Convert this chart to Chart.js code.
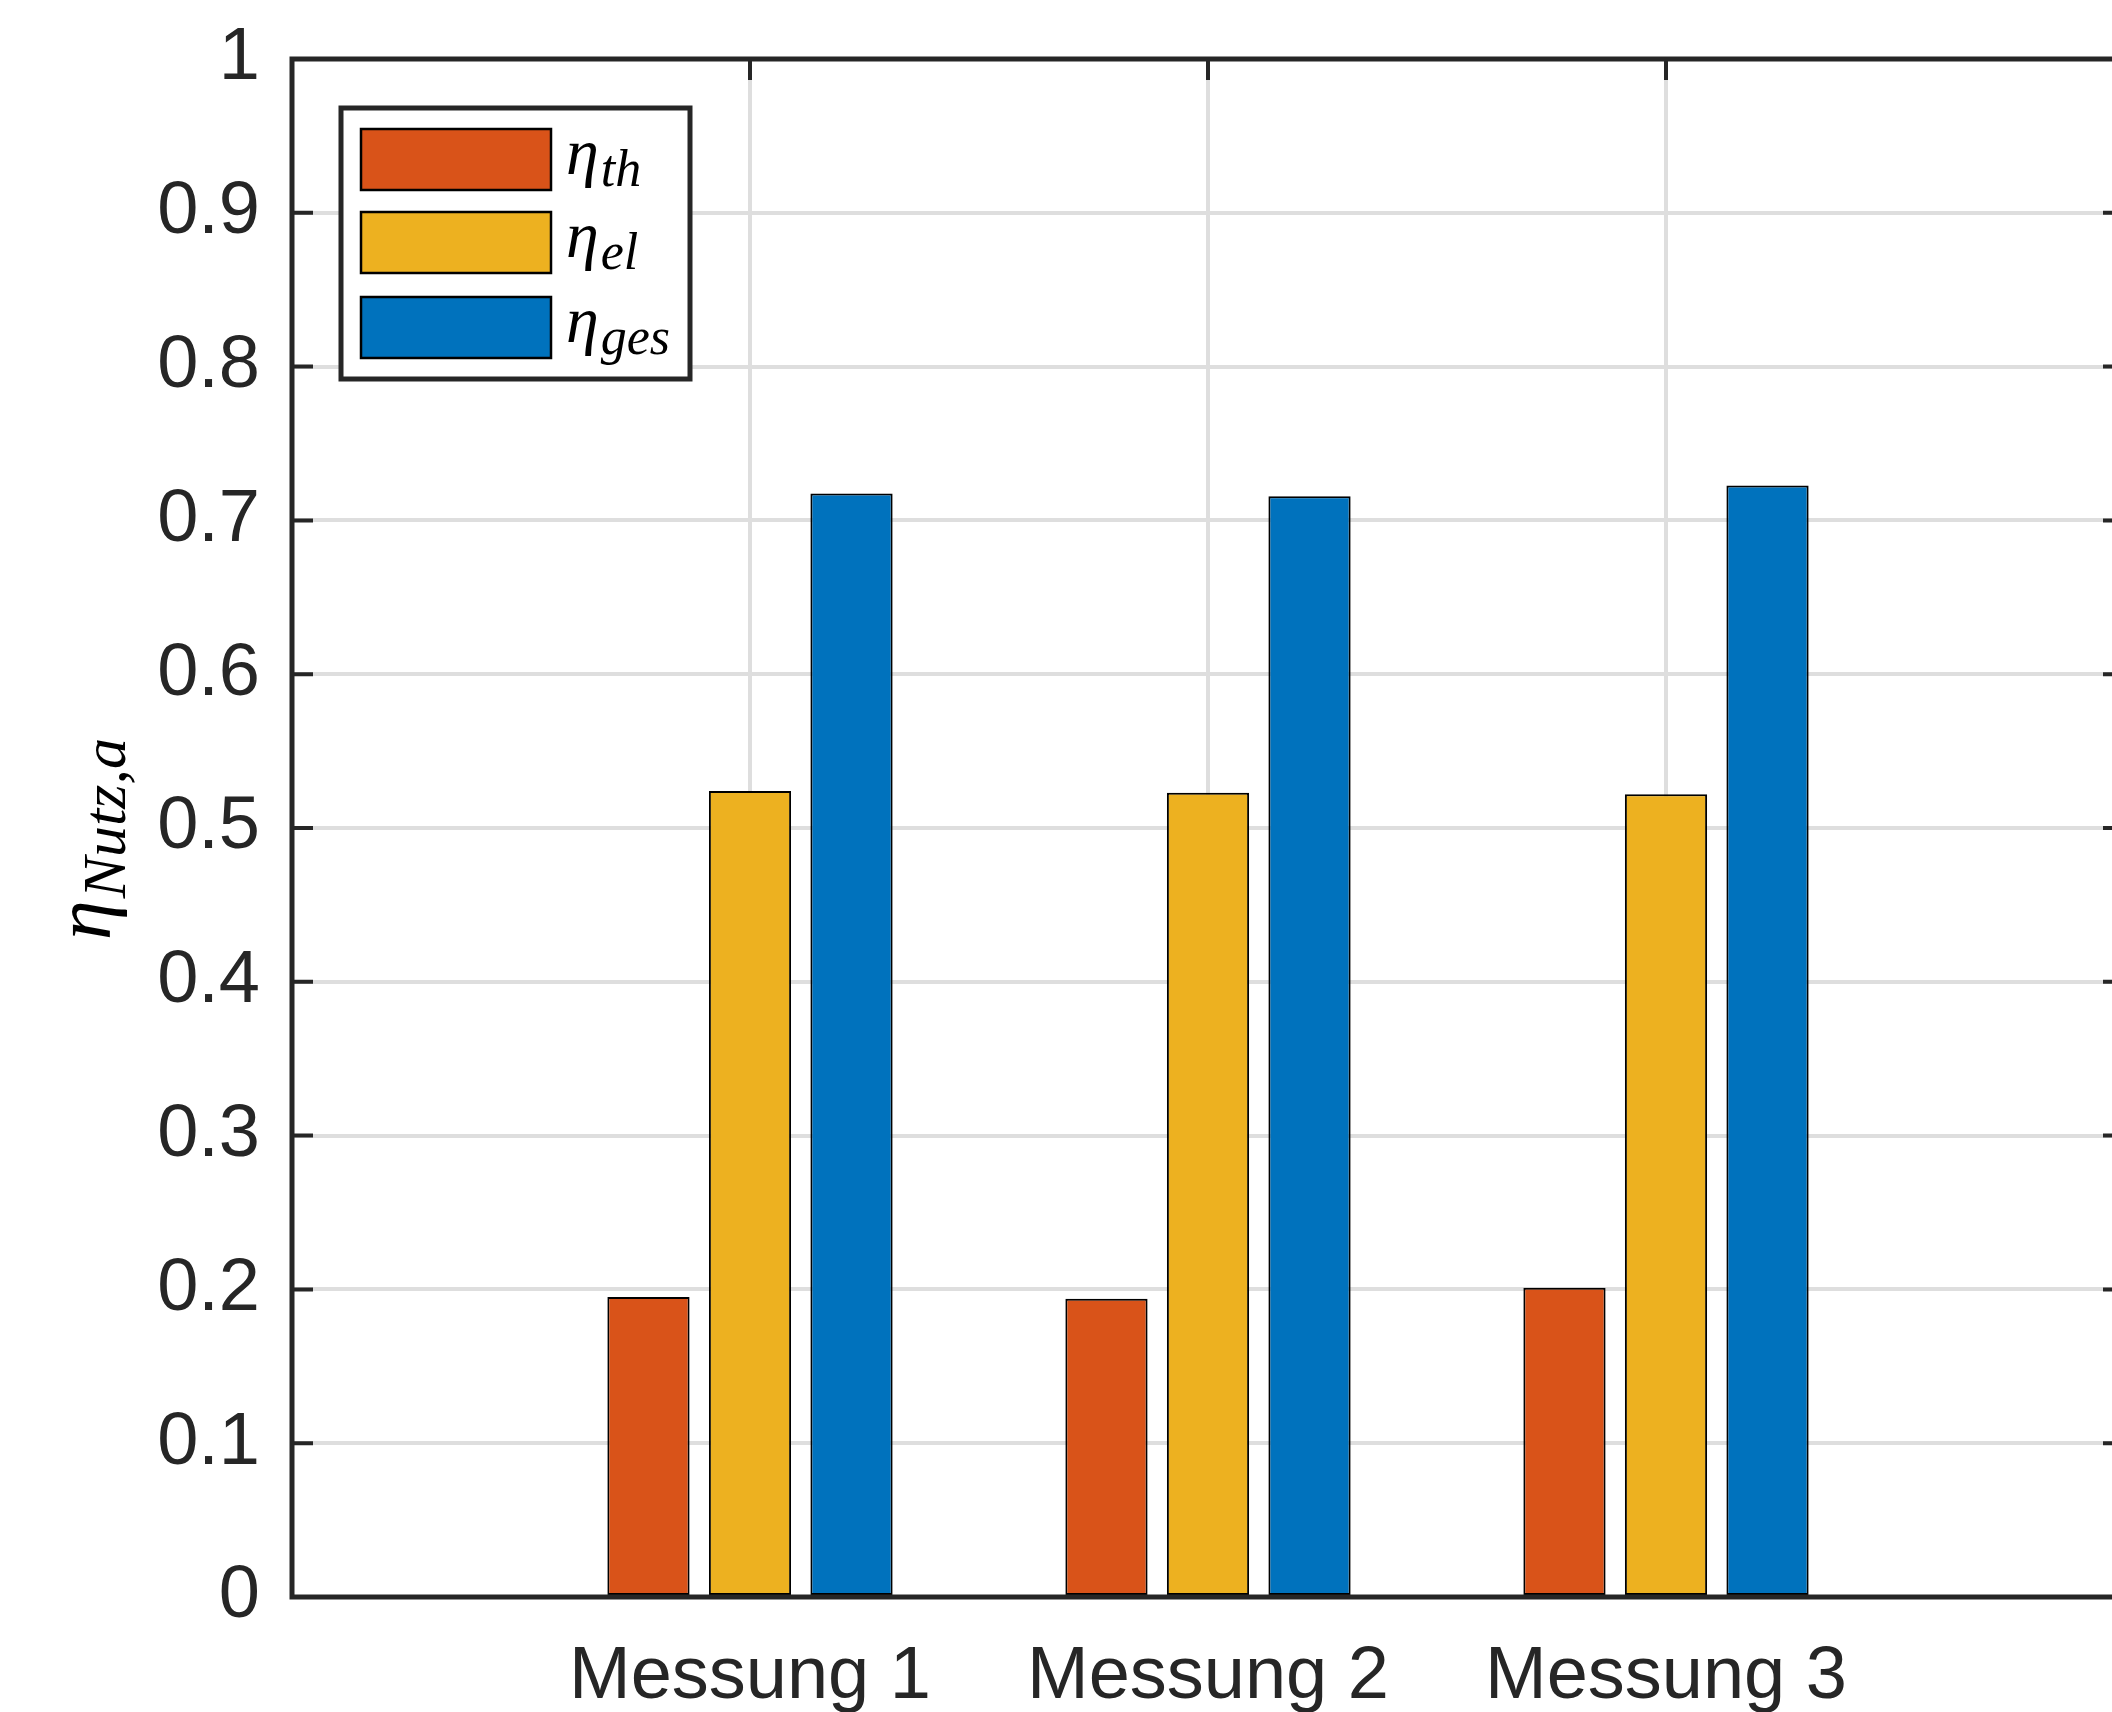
<!DOCTYPE html>
<html>
<head>
<meta charset="utf-8">
<script src="https://cdn.jsdelivr.net/npm/chart.js@4"></script>
<style>
  html, body { margin: 0; padding: 0; background: #fff; overflow: hidden; width: 2112px; height: 1712px; }
  #chart { position: absolute; left: 0; top: 0; }
</style>
</head>
<body>
<canvas id="chart" width="2130" height="1760"></canvas>
<script>
// Wirkungsgrade je Messung
const kategorien = ['Messung 1', 'Messung 2', 'Messung 3'];
const etaTh = [0.195, 0.194, 0.201];
const etaEl = [0.524, 0.523, 0.522];
const etaGes = [0.7175, 0.7157, 0.7227];
const reihenIndex = ['th', 'el', 'ges'];
const yTicks = [0, 0.1, 0.2, 0.3, 0.4, 0.5, 0.6, 0.7, 0.8, 0.9, 1];
const yTitelBasis = 'η';
const yTitelIndex = 'Nutz,a';

const ACHSE = '#262626';
const GITTER = '#dedede';
const MATHE = '"Liberation Serif", "DejaVu Serif", serif';

// leere Randkategorien, damit die Achse von 0 bis 4 laeuft wie in MATLAB
const labels = ['', ...kategorien, ''];
const pad = arr => [null, ...arr, null];

function zeichneEta(ctx, x, y, basisPx, indexPx, shift, index) {
    ctx.font = 'italic ' + basisPx + 'px ' + MATHE;
    ctx.fillText(yTitelBasis, x, y);
    const w = ctx.measureText(yTitelBasis).width;
    ctx.font = 'italic ' + indexPx + 'px ' + MATHE;
    ctx.fillText(index, x + w + 2, y + shift);
}

// keine automatische Randzugabe der Achsen
function ohnePadding(s) {
    s.paddingTop = 0; s.paddingBottom = 0; s.paddingLeft = 0; s.paddingRight = 0;
}

const rahmenPlugin = {
    id: 'rahmen',
    beforeDatasetsDraw(chart) {
        const { ctx, chartArea: a, scales } = chart;
        const len = 21;
        ctx.save();
        ctx.strokeStyle = ACHSE;
        ctx.lineWidth = 4;
        ctx.beginPath();
        yTicks.forEach(v => {
            const py = scales.y.getPixelForValue(v);
            ctx.moveTo(a.left, py); ctx.lineTo(a.left + len, py);
            ctx.moveTo(a.right, py); ctx.lineTo(a.right - len, py);
        });
        kategorien.forEach((k, i) => {
            const px = scales.x.getPixelForValue(i + 1);
            ctx.moveTo(px, a.top); ctx.lineTo(px, a.top + len);
            ctx.moveTo(px, a.bottom); ctx.lineTo(px, a.bottom - len);
        });
        ctx.stroke();
        ctx.restore();
    },
    afterDatasetsDraw(chart) {
        const { ctx, chartArea: a } = chart;
        ctx.save();
        ctx.strokeStyle = ACHSE;
        ctx.lineWidth = 5;
        ctx.strokeRect(a.left, a.top, a.right - a.left, a.bottom - a.top);
        ctx.restore();
    },
    afterDraw(chart) {
        const { ctx } = chart;
        ctx.save();
        // Legende
        ctx.fillStyle = '#fff';
        ctx.fillRect(341, 108, 349, 271);
        ctx.strokeStyle = ACHSE;
        ctx.lineWidth = 5;
        ctx.strokeRect(341, 108, 349, 271);
        const zeilenY = [129, 212, 297];
        chart.data.datasets.forEach((ds, i) => {
            ctx.fillStyle = ds.backgroundColor;
            ctx.fillRect(361, zeilenY[i], 190, 61);
            ctx.strokeStyle = '#000';
            ctx.lineWidth = 2.5;
            ctx.strokeRect(361, zeilenY[i], 190, 61);
            ctx.fillStyle = '#000';
            ctx.textBaseline = 'alphabetic';
            ctx.textAlign = 'left';
            zeichneEta(ctx, 566, zeilenY[i] + 45, 66, 52, 12, reihenIndex[i]);
        });
        // y-Achsentitel
        ctx.translate(110, 940);
        ctx.rotate(-Math.PI / 2);
        ctx.fillStyle = '#000';
        zeichneEta(ctx, 0, 0, 80, 62, 15, yTitelIndex);
        ctx.restore();
    }
};

new Chart(document.getElementById('chart').getContext('2d'), {
    type: 'bar',
    data: {
        labels: labels,
        datasets: [
            { label: 'eta_th', data: pad(etaTh), backgroundColor: '#D95319' },
            { label: 'eta_el', data: pad(etaEl), backgroundColor: '#EDB120' },
            { label: 'eta_ges', data: pad(etaGes), backgroundColor: '#0072BD' }
        ]
    },
    options: {
        responsive: false,
        devicePixelRatio: 1,
        animation: false,
        layout: { padding: { top: 59, right: 6, bottom: 0, left: 0 } },
        datasets: {
            bar: {
                categoryPercentage: 0.665,
                barPercentage: 0.81,
                borderColor: '#000',
                borderWidth: 2,
                borderSkipped: false
            }
        },
        plugins: {
            legend: { display: false },
            tooltip: { enabled: false }
        },
        scales: {
            x: {
                offset: false,
                afterFit: s => { s.height = 163; ohnePadding(s); },
                grid: {
                    offset: false,
                    drawTicks: false,
                    lineWidth: 4,
                    color: c => (c.index === 0 || c.index === labels.length - 1) ? 'rgba(0,0,0,0)' : GITTER
                },
                border: { display: false },
                ticks: {
                    autoSkip: false,
                    maxRotation: 0,
                    padding: 36,
                    color: ACHSE,
                    font: { family: '"Liberation Sans", Arial, sans-serif', size: 74 }
                }
            },
            y: {
                min: 0,
                max: 1,
                afterFit: s => { s.width = 292; ohnePadding(s); },
                afterBuildTicks: s => { s.ticks = yTicks.map(v => ({ value: v })); },
                grid: { drawTicks: false, lineWidth: 4, color: GITTER },
                border: { display: false },
                ticks: {
                    padding: 32,
                    color: ACHSE,
                    callback: v => String(v),
                    font: { family: '"Liberation Sans", Arial, sans-serif', size: 74 }
                }
            }
        }
    },
    plugins: [rahmenPlugin]
});
</script>
</body>
</html>
